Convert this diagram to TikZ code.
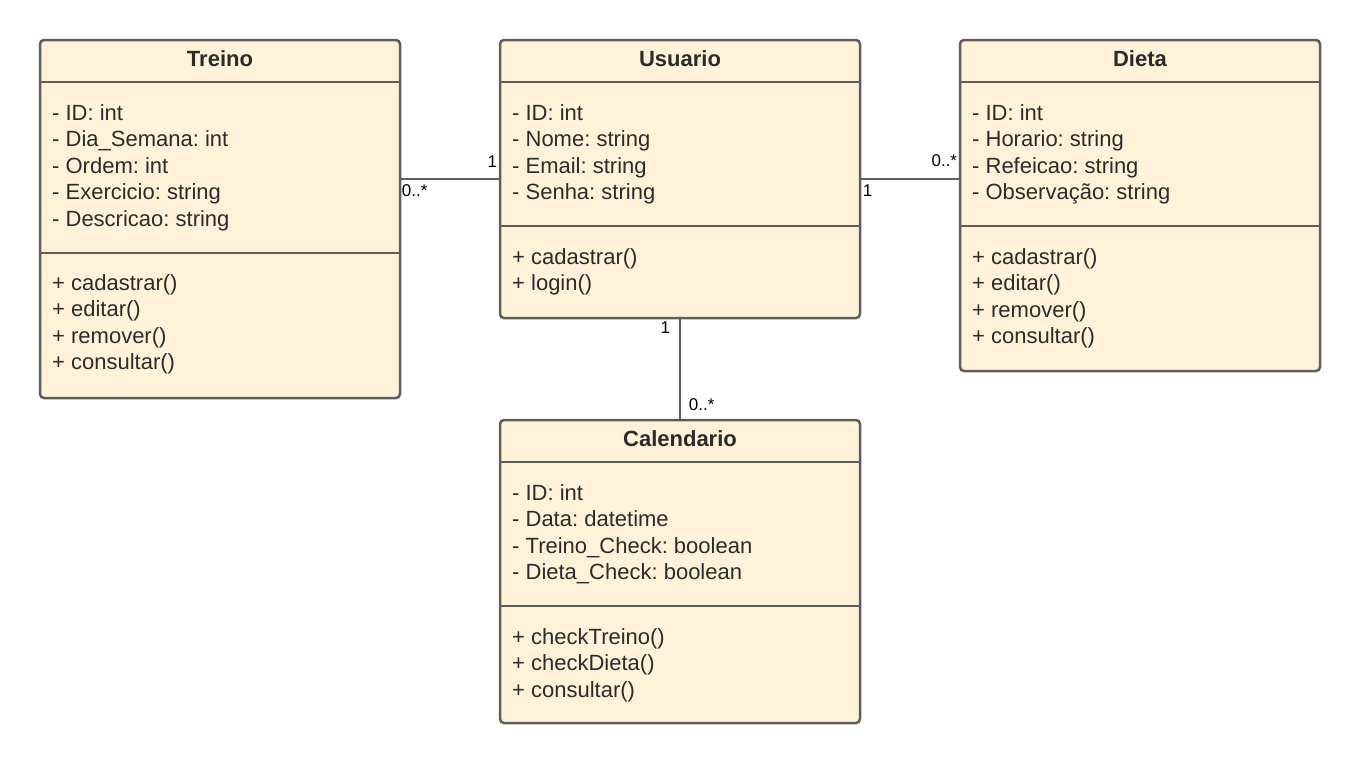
\documentclass[tikz,border=0pt]{standalone}
\usepackage{fontspec}
\setmainfont{Liberation Sans}
\usetikzlibrary{positioning}
\definecolor{classfill}{HTML}{FFF2D9}
\definecolor{classline}{HTML}{5E5E5E}
\definecolor{classtext}{HTML}{2B2B2B}
\frenchspacing

\begin{document}
\begin{tikzpicture}[x=1pt, y=-1pt,
    classbox/.style={draw=classline, fill=classfill, line width=2.5pt, rounded corners=4pt, anchor=north west, inner sep=0, outer sep=0, minimum width=360pt},
    sepline/.style={draw=classline, line width=2.5pt},
    assoc/.style={draw=classline, line width=1.8pt},
    title/.style={font=\fontsize{22}{26}\selectfont\bfseries, text=classtext, anchor=base, inner sep=0},
    member/.style={font=\fontsize{22}{26}\selectfont, text=classtext, anchor=base west, inner sep=0},
    mult/.style={font=\fontsize{17}{20}\selectfont, text=black, inner sep=0}]

  \useasboundingbox[fill=white] (0,0) rectangle (1360,764);

  % Treino
  \node[classbox, minimum height=358pt] (treino) at (40,40) {};
  \draw[sepline] (40,82) -- (400,82);
  \draw[sepline] (40,253) -- (400,253);
  \node[title] (treino-t) at (220,66) {Treino};
  \foreach \t [count=\i] in {- ID: int, - Dia\_Semana: int, - Ordem: int, - Exercicio: string, - Descricao: string}
    \node[member] (treino-a\i) at (52,93.5+26.5*\i) {\t};
  \foreach \t [count=\i] in {+ cadastrar(), + editar(), + remover(), + consultar()}
    \node[member] (treino-m\i) at (52,263.5+26.5*\i) {\t};

  % Usuario
  \node[classbox, minimum height=278pt] (usuario) at (500,40) {};
  \draw[sepline] (500,82) -- (860,82);
  \draw[sepline] (500,226) -- (860,226);
  \node[title] (usuario-t) at (680,66) {Usuario};
  \foreach \t [count=\i] in {- ID: int, - Nome: string, - Email: string, - Senha: string}
    \node[member] (usuario-a\i) at (512,93.5+26.5*\i) {\t};
  \foreach \t [count=\i] in {+ cadastrar(), + login()}
    \node[member] (usuario-m\i) at (512,237.5+26.5*\i) {\t};

  % Dieta
  \node[classbox, minimum height=331pt] (dieta) at (960,40) {};
  \draw[sepline] (960,82) -- (1320,82);
  \draw[sepline] (960,226) -- (1320,226);
  \node[title] (dieta-t) at (1140,66) {Dieta};
  \foreach \t [count=\i] in {- ID: int, - Horario: string, - Refeicao: string, - Observação: string}
    \node[member] (dieta-a\i) at (972,93.5+26.5*\i) {\t};
  \foreach \t [count=\i] in {+ cadastrar(), + editar(), + remover(), + consultar()}
    \node[member] (dieta-m\i) at (972,237.5+26.5*\i) {\t};

  % Calendario
  \node[classbox, minimum height=303pt] (calendario) at (500,420) {};
  \draw[sepline] (500,462) -- (860,462);
  \draw[sepline] (500,606) -- (860,606);
  \node[title] (calendario-t) at (680,446) {Calendario};
  \foreach \t [count=\i] in {- ID: int, - Data: datetime, - Treino\_Check: boolean, - Dieta\_Check: boolean}
    \node[member] (calendario-a\i) at (512,473.5+26.5*\i) {\t};
  \foreach \t [count=\i] in {+ checkTreino(), + checkDieta(), + consultar()}
    \node[member] (calendario-m\i) at (512,617.5+26.5*\i) {\t};

  % associacoes
  \draw[assoc] (usuario.west) -- (usuario.west -| treino.east)
    node[mult, pos=0, anchor=south east, xshift=-2pt, yshift=11pt] (m1) {1}
    node[mult, pos=1, anchor=north west, xshift=1pt, yshift=-5pt] (m2) {0..*};
  \draw[assoc] (usuario.east) -- (usuario.east -| dieta.west)
    node[mult, pos=0, anchor=north west, xshift=2pt, yshift=-5pt] (m3) {1}
    node[mult, pos=1, anchor=south east, xshift=-2pt, yshift=11pt] (m4) {0..*};
  \draw[assoc] (usuario.south) -- (calendario.north)
    node[mult, pos=0, anchor=north east, xshift=-9pt, yshift=-3pt] (m5) {1}
    node[mult, pos=1, anchor=south west, xshift=8pt, yshift=8pt] (m6) {0..*};
\end{tikzpicture}
\end{document}
